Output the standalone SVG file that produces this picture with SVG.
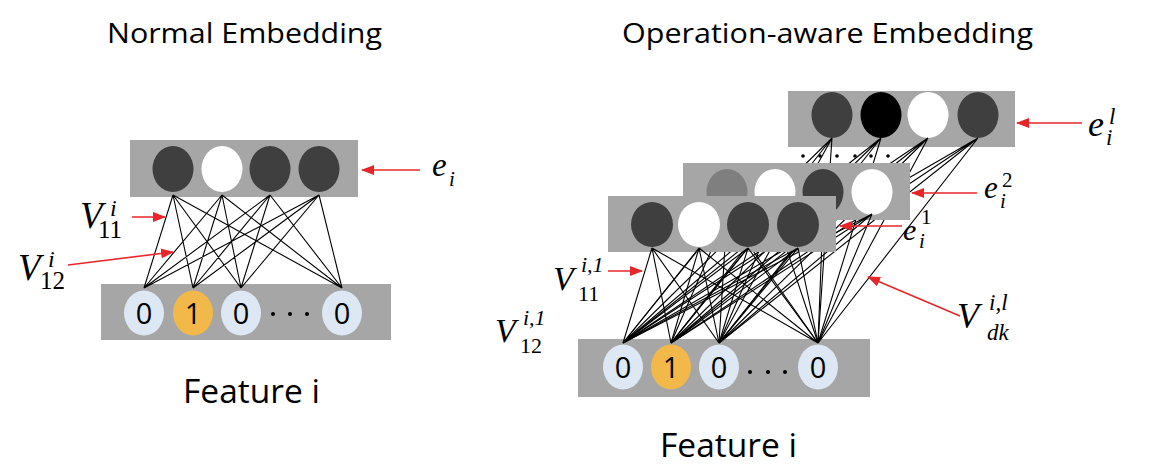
<svg xmlns="http://www.w3.org/2000/svg" width="1152" height="472" viewBox="0 0 1152 472">
<defs>
<style>
.bar{fill:#a6a6a6}
.dk{fill:#3f3f3f}
.wh{fill:#ffffff}
.bk{fill:#000000}
.gy{fill:#7f7f7f}
.lb{fill:#dde8f4}
.or{fill:#f3b84a}
.ln{stroke:#000;stroke-width:1.1;fill:none}
.ar{stroke:#e8262a;stroke-width:1.6;fill:none;marker-end:url(#ah)}
.ttl{font-family:"Open Sans","Liberation Sans",sans-serif;font-size:28px;fill:#000}
.ft{font-family:"Open Sans","Liberation Sans",sans-serif;font-size:33px;fill:#000}
.dg{font-family:"Open Sans","Liberation Sans",sans-serif;font-size:29px;fill:#000;text-anchor:middle}
.m{font-family:"Liberation Serif","DejaVu Serif",serif;font-style:italic;fill:#000}
.up{font-style:normal}
</style>
<marker id="ah" markerUnits="userSpaceOnUse" markerWidth="13" markerHeight="10" refX="12" refY="5" orient="auto">
<path d="M0,0 L13,5 L0,10 z" fill="#e8262a"/>
</marker>
</defs>
<rect width="1152" height="472" fill="#ffffff"/>

<text class="ttl" x="107" y="43" textLength="275" lengthAdjust="spacingAndGlyphs">Normal Embedding</text>
<text class="ttl" x="622" y="43" textLength="411" lengthAdjust="spacingAndGlyphs">Operation-aware Embedding</text>

<!-- Left: normal embedding -->
<g id="left-embedding">
<rect class="bar" x="130" y="140" width="228" height="57"/>
</g>
<g id="left-feature">
<rect class="bar" x="101" y="284" width="290" height="56"/>
</g>
<g id="left-connectors">
<path class="ln" d="M173 195L144 288M173 195L193 288M173 195L241 288M173 195L342 288M222 195L144 288M222 195L193 288M222 195L241 288M222 195L342 288M270 195L144 288M270 195L193 288M270 195L241 288M270 195L342 288M319 195L144 288M319 195L193 288M319 195L241 288M319 195L342 288"/>
</g>
<g id="left-embedding-nodes">
<ellipse class="dk" cx="173" cy="169" rx="20.5" ry="23"/>
<ellipse class="wh" cx="222" cy="169" rx="20.5" ry="23"/>
<ellipse class="dk" cx="270" cy="169" rx="20.5" ry="23"/>
<ellipse class="dk" cx="319" cy="169" rx="20.5" ry="23"/>
</g>
<g id="left-feature-nodes">
<ellipse class="lb" cx="144" cy="313" rx="20" ry="22.5"/>
<ellipse class="or" cx="193" cy="313" rx="20" ry="22.5"/>
<ellipse class="lb" cx="241" cy="313" rx="20" ry="22.5"/>
<ellipse class="lb" cx="342" cy="313" rx="20" ry="22.5"/>
<text class="dg" x="144" y="324">0</text>
<text class="dg" x="193" y="324">1</text>
<text class="dg" x="241" y="324">0</text>
<text class="dg" x="342" y="324">0</text>
<circle cx="273" cy="314" r="2"/>
<circle cx="290" cy="314" r="2"/>
<circle cx="307" cy="314" r="2"/>
</g>
<text class="ft" x="183" y="403" textLength="137" lengthAdjust="spacingAndGlyphs">Feature i</text>

<!-- Left labels -->
<g id="left-labels">
<path class="ar" d="M420 170H362"/>
<text class="m" x="432" y="176" font-size="33">e<tspan x="449" y="186" font-size="21">i</tspan></text>
<path class="ar" d="M132 217H165"/>
<text class="m" x="80" y="228" font-size="37">V<tspan x="110" y="216" font-size="24">i</tspan><tspan class="up" x="98" y="238" font-size="25">11</tspan></text>
<path class="ar" d="M68 265L173 252"/>
<text class="m" x="18" y="280" font-size="37">V<tspan x="48" y="267" font-size="24">i</tspan><tspan class="up" x="40" y="289" font-size="25">12</tspan></text>
</g>

<!-- Right: operation-aware embedding -->
<g id="right-feature">
<rect class="bar" x="578" y="339" width="292" height="58"/>
</g>
<g id="layer-l">
<rect class="bar" x="788" y="91" width="227" height="56"/>
<ellipse class="dk" cx="832" cy="115" rx="20.5" ry="23"/>
<ellipse class="bk" cx="881" cy="115" rx="20.5" ry="23"/>
<ellipse class="wh" cx="928" cy="115" rx="20.5" ry="23"/>
<ellipse class="dk" cx="978" cy="115" rx="20.5" ry="23"/>
</g>
<g id="connectors-l">
<path class="ln" d="M832 138L623 343M832 138L671 343M832 138L719 343M832 138L818 343M881 138L623 343M881 138L671 343M881 138L719 343M881 138L818 343M928 138L623 343M928 138L671 343M928 138L719 343M928 138L818 343M978 138L623 343M978 138L671 343M978 138L719 343M978 138L818 343"/>
<circle cx="803" cy="156" r="1.8"/>
<circle cx="820" cy="156" r="1.8"/>
<circle cx="837" cy="156" r="1.8"/>
<circle cx="855" cy="156" r="1.8"/>
<circle cx="871" cy="156" r="1.8"/>
<circle cx="888" cy="156" r="1.8"/>
</g>
<g id="layer-2">
<rect class="bar" x="683" y="163" width="227" height="57"/>
<ellipse class="gy" cx="727" cy="192" rx="20.5" ry="23"/>
<ellipse class="wh" cx="775" cy="192" rx="20.5" ry="23"/>
<ellipse class="dk" cx="823" cy="192" rx="20.5" ry="23"/>
<ellipse class="wh" cx="872" cy="192" rx="20.5" ry="23"/>
</g>
<g id="connectors-2">
<path class="ln" d="M727 214L623 343M727 214L671 343M727 214L719 343M727 214L818 343M775 214L623 343M775 214L671 343M775 214L719 343M775 214L818 343M823 214L623 343M823 214L671 343M823 214L719 343M823 214L818 343M872 214L623 343M872 214L671 343M872 214L719 343M872 214L818 343"/>
</g>
<g id="layer-1">
<rect class="bar" x="608" y="196" width="228" height="56"/>
<ellipse class="dk" cx="652" cy="224.5" rx="21" ry="22.5"/>
<ellipse class="wh" cx="699" cy="224.5" rx="21" ry="22.5"/>
<ellipse class="dk" cx="748" cy="224.5" rx="21" ry="22.5"/>
<ellipse class="dk" cx="798" cy="224.5" rx="21" ry="22.5"/>
</g>
<g id="connectors-1">
<path class="ln" d="M652 248L623 343M652 248L671 343M652 248L719 343M652 248L818 343M699 248L623 343M699 248L671 343M699 248L719 343M699 248L818 343M748 248L623 343M748 248L671 343M748 248L719 343M748 248L818 343M798 248L623 343M798 248L671 343M798 248L719 343M798 248L818 343"/>
</g>
<g id="right-feature-nodes">
<ellipse class="lb" cx="623" cy="367" rx="20" ry="22.5"/>
<ellipse class="or" cx="671" cy="367" rx="20" ry="22.5"/>
<ellipse class="lb" cx="719" cy="367" rx="20" ry="22.5"/>
<ellipse class="lb" cx="818" cy="367" rx="20" ry="22.5"/>
<text class="dg" x="623" y="378">0</text>
<text class="dg" x="671" y="378">1</text>
<text class="dg" x="719" y="378">0</text>
<text class="dg" x="818" y="378">0</text>
<circle cx="750" cy="372" r="2"/>
<circle cx="768" cy="372" r="2"/>
<circle cx="785" cy="372" r="2"/>
</g>
<text class="ft" x="660" y="457" textLength="137" lengthAdjust="spacingAndGlyphs">Feature i</text>

<!-- Right labels -->
<g id="right-labels">
<path class="ar" d="M1082 123H1017"/>
<text class="m" x="1088" y="136" font-size="36">e<tspan x="1109" y="124" font-size="23">l</tspan><tspan x="1106" y="145" font-size="23">i</tspan></text>
<path class="ar" d="M977 193H912"/>
<text class="m" x="984" y="198" font-size="31">e<tspan class="up" x="1002" y="187" font-size="21">2</tspan><tspan x="1000" y="208" font-size="21">i</tspan></text>
<path class="ar" d="M902 226H840"/>
<text class="m" x="903" y="240" font-size="30">e<tspan class="up" x="921" y="224" font-size="21">1</tspan><tspan x="919" y="248" font-size="21">i</tspan></text>
<path class="ar" d="M608 271H642"/>
<text class="m" x="553" y="290" font-size="34">V<tspan x="581" y="272" font-size="22">i,1</tspan><tspan class="up" x="578" y="301" font-size="22">11</tspan></text>
<text class="m" x="495" y="342" font-size="34">V<tspan x="523" y="325" font-size="22">i,1</tspan><tspan class="up" x="520" y="353" font-size="22">12</tspan></text>
<path class="ar" d="M960 316L868 277"/>
<text class="m" x="957" y="328" font-size="36">V<tspan x="989" y="310" font-size="23">i,l</tspan><tspan x="987" y="340" font-size="23">dk</tspan></text>
</g>
</svg>
